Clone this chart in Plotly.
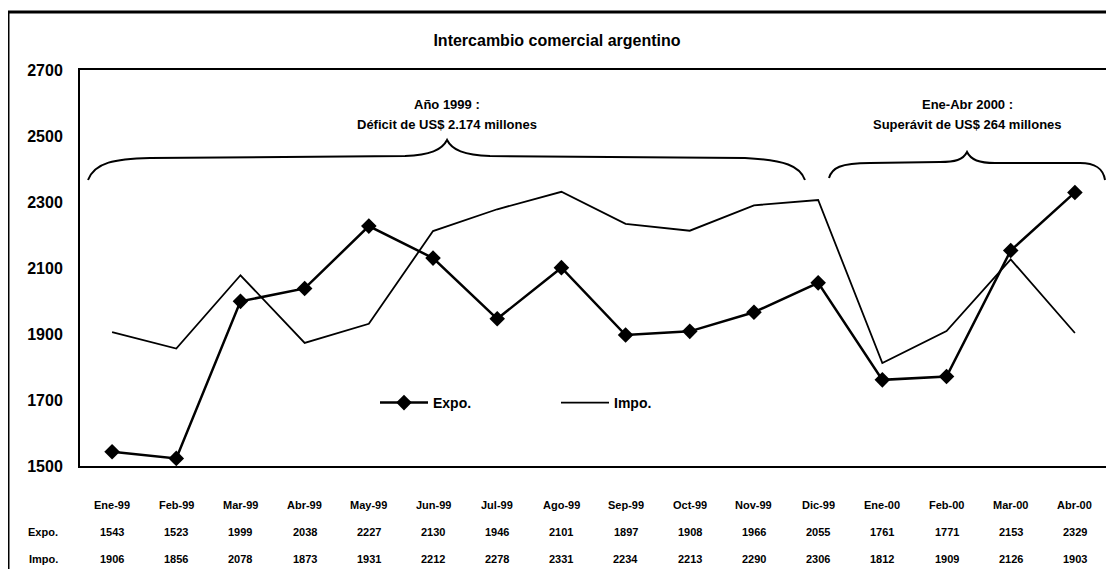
import plotly.graph_objects as go

months = ["Ene-99", "Feb-99", "Mar-99", "Abr-99", "May-99", "Jun-99", "Jul-99", "Ago-99",
          "Sep-99", "Oct-99", "Nov-99", "Dic-99", "Ene-00", "Feb-00", "Mar-00", "Abr-00"]
expo = [1543, 1523, 1999, 2038, 2227, 2130, 1946, 2101, 1897, 1908, 1966, 2055, 1761, 1771, 2153, 2329]
impo = [1906, 1856, 2078, 1873, 1931, 2212, 2278, 2331, 2234, 2213, 2290, 2306, 1812, 1909, 2126, 1903]
y_ticks = [1500, 1700, 1900, 2100, 2300, 2500, 2700]

# page has an 8px body margin; work in page pixels, convert to figure
OFF = 8
W, H = 1114 - OFF, 569 - OFF
PL, PR, PT, PB = 80, 1107, 70, 466  # plot box in page pixels
L, R, T, B = PL - OFF, W - (PR - OFF), PT - OFF, H - (PB - OFF)
FONT = "Liberation Sans, Arial, sans-serif"


def px(x, y):
    # page pixel -> paper coordinates
    return (x - PL) / (PR - PL), (PB - y) / (PB - PT)


def brace_path(pts):
    out = []
    for seg in pts:
        coords = []
        for j in range(1, len(seg), 2):
            a, b = px(seg[j], seg[j + 1])
            coords.append(f"{a:.4f},{b:.4f}")
        out.append(seg[0] + " " + " ".join(coords))
    return " ".join(out)


def bold(size):
    return dict(size=size, color="black", family=FONT, weight="bold")


def label(x, xref, py, text, size):
    return dict(x=x, xref=xref, y=px(0, py)[1], yref="paper", text=text, showarrow=False,
                xanchor="center", yanchor="middle", font=bold(size))


fig = go.Figure()
fig.add_trace(go.Scatter(x=months, y=expo, name="Expo.", mode="lines+markers",
    line=dict(color="black", width=2.5),
    marker=dict(symbol="diamond", size=12, color="black")))
fig.add_trace(go.Scatter(x=months, y=impo, name="Impo.", mode="lines",
    line=dict(color="black", width=1.8)))

# table under the chart
ann = []
for m, e, i in zip(months, expo, impo):
    ann.append(label(m, "x", 505, m, 11))
    ann.append(label(m, "x", 532, str(e), 11))
    ann.append(label(m, "x", 559, str(i), 11))
ann.append(label(px(43, 0)[0], "paper", 532, "Expo.", 11))
ann.append(label(px(43, 0)[0], "paper", 559, "Impo.", 11))

for cx, l1, l2 in ((447, "Año 1999 :", "Déficit de US$ 2.174 millones"),
                   (967, "Ene-Abr 2000 :", "Superávit de US$ 264 millones")):
    ann.append(label(px(cx, 0)[0], "paper", 104, l1, 13))
    ann.append(label(px(cx, 0)[0], "paper", 124, l2, 13))

brace1 = [("M", 88, 180), ("C", 95, 162, 115, 159, 150, 158), ("L", 405, 156),
          ("C", 430, 155, 442, 150, 447, 140), ("C", 452, 150, 464, 155, 490, 156),
          ("L", 745, 158), ("C", 785, 160, 800, 166, 805, 180)]
brace2 = [("M", 829, 178), ("C", 832, 168, 840, 163, 870, 163), ("L", 940, 162),
          ("C", 955, 162, 963, 160, 967, 152), ("C", 971, 160, 979, 163, 995, 163),
          ("L", 1080, 163), ("C", 1095, 163, 1103, 168, 1105, 180)]

shapes = [
    dict(type="path", xref="paper", yref="paper", path=brace_path(brace1),
         line=dict(color="black", width=2)),
    dict(type="path", xref="paper", yref="paper", path=brace_path(brace2),
         line=dict(color="black", width=2)),
]
x0, y0 = px(8, 12)
x1, y1 = px(1125, 580)
shapes.append(dict(type="rect", xref="paper", yref="paper", x0=x0, y0=y1, x1=x1, y1=y0,
                   line=dict(color="black", width=3), layer="below"))

fig.update_layout(
    width=W, height=H,
    margin=dict(l=L, r=R, t=T, b=B, autoexpand=False),
    plot_bgcolor="white", paper_bgcolor="white",
    font=dict(family=FONT, color="black"),
    title=dict(text="Intercambio comercial argentino", x=px(557, 0)[0], xref="paper",
               xanchor="center", y=1 - (40 - OFF) / H, yanchor="middle", font=bold(16)),
    showlegend=True,
    legend=dict(orientation="h", x=px(375, 0)[0], xanchor="left", y=px(0, 403)[1],
                yanchor="middle", bgcolor="rgba(0,0,0,0)", itemwidth=48,
                entrywidth=118, entrywidthmode="pixels", font=bold(14)),
    annotations=ann,
    shapes=shapes,
)
fig.update_xaxes(type="category", range=[-0.5, 15.5], showticklabels=False, showgrid=False,
                 showline=True, linecolor="black", linewidth=2, mirror=True, ticks="",
                 zeroline=False)
fig.update_yaxes(range=[1500, 2700], tickvals=y_ticks, showgrid=False, showline=True,
                 linecolor="black", linewidth=2, mirror=True, ticks="", zeroline=False,
                 ticklabelstandoff=12, tickfont=bold(16))

fig.write_html("out.html")
